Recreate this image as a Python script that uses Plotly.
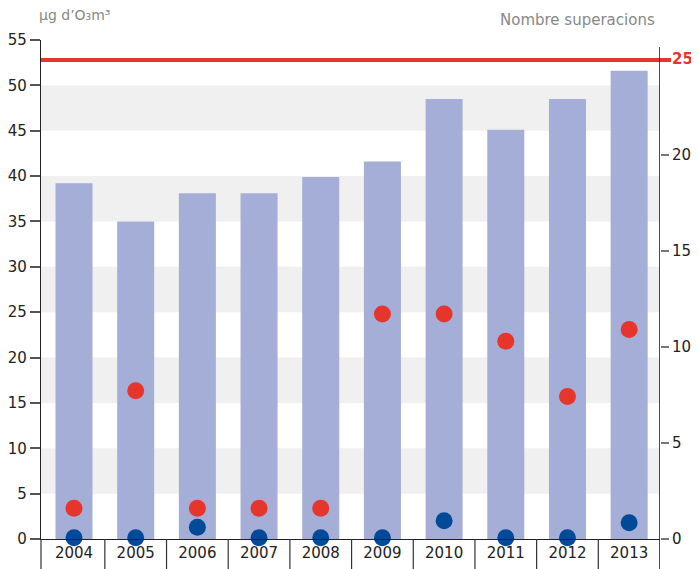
import plotly.graph_objects as go

years = ["2004", "2005", "2006", "2007", "2008", "2009", "2010", "2011", "2012", "2013"]
bar_values = [39.2, 35.0, 38.1, 38.1, 39.9, 41.6, 48.5, 45.1, 48.5, 51.6]
red_values = [3.4, 16.35, 3.4, 3.4, 3.4, 24.8, 24.8, 21.8, 15.7, 23.1]
blue_values = [0.15, 0.15, 1.3, 0.15, 0.15, 0.15, 2.0, 0.15, 0.15, 1.8]
limit_value = 52.8
left_ticks = [0, 5, 10, 15, 20, 25, 30, 35, 40, 45, 50, 55]
right_ticks = [0, 5, 10, 15, 20, 25]
bands = [(5, 10), (15, 20), (25, 30), (35, 40), (45, 50)]

FONT = "DejaVu Sans"
BAR = "#a5aed6"
RED = "#e6362c"
BLUE = "#004a97"
BAND = "#eff0ef"

# page has an 8px body margin; compensate so the plot area sits at x 41-660, y 40-539
PW, PH = 619, 499
ML, MT = 33, 32
W, H = 691, 561
MR = W - ML - PW
MB = H - MT - PH

fig = go.Figure()
fig.add_trace(go.Bar(x=years, y=bar_values, marker=dict(color=BAR, line=dict(width=0)),
                     width=0.6, hoverinfo="skip"))
fig.add_trace(go.Scatter(x=years, y=red_values, mode="markers",
                         marker=dict(color=RED, size=17), cliponaxis=False))
fig.add_trace(go.Scatter(x=years, y=blue_values, mode="markers",
                         marker=dict(color=BLUE, size=17), cliponaxis=False))
# invisible trace to activate right axis
fig.add_trace(go.Scatter(x=[years[0]], y=[0], yaxis="y2", mode="markers",
                         marker=dict(opacity=0), hoverinfo="skip"))

shapes = []
for lo, hi in bands:
    shapes.append(dict(type="rect", xref="paper", yref="y", x0=0, x1=1, y0=lo, y1=hi,
                       fillcolor=BAND, line=dict(width=0), layer="below"))
shapes.append(dict(type="line", xref="paper", yref="y", x0=0, x1=1 + 11 / PW,
                   y0=limit_value, y1=limit_value, line=dict(color=RED, width=4), layer="above"))
# left axis extension below the x axis
shapes.append(dict(type="line", xref="paper", yref="paper", x0=0, x1=0, y0=0, y1=-30 / PH,
                   line=dict(color="#333", width=1.2)))
for i in range(1, len(years) + 1):
    last = i == len(years)
    shapes.append(dict(type="line", xref="x", yref="paper", x0=i - 0.5, x1=i - 0.5,
                       y0=(1 - 7 / PH) if last else 0, y1=-30 / PH,
                       line=dict(color="#111" if last else "#333",
                                 width=1.5 if last else 1.2)))

tt_right = [str(v) for v in right_ticks]
tt_right[-1] = "<b><span style='color:%s'>25</span></b>" % RED

fig.update_layout(
    width=W, height=H,
    margin=dict(l=ML, r=MR, t=MT, b=MB, autoexpand=False),
    paper_bgcolor="white", plot_bgcolor="white",
    showlegend=False,
    font=dict(family=FONT, size=15, color="#222"),
    bargap=0.4,
    shapes=shapes,
    xaxis=dict(type="category", showline=True, linecolor="#222", linewidth=1.2,
               ticks="", showgrid=False, zeroline=False, range=[-0.535, 9.5],
               automargin=False, tickfont=dict(size=15, color="#222")),
    yaxis=dict(range=[0, 55], tickvals=left_ticks, showgrid=False, zeroline=False,
               showline=True, linecolor="#222", linewidth=1.2, automargin=False,
               ticks="outside", ticklen=10, tickcolor="#555", tickwidth=1.5,
               tickfont=dict(size=15, color="#222")),
    yaxis2=dict(range=[0, 26], overlaying="y", side="right", tickvals=right_ticks,
                ticktext=tt_right, showgrid=False, zeroline=False, automargin=False,
                showline=False,
                ticks="outside", ticklen=8, tickcolor="#777", tickwidth=1.5,
                tickfont=dict(size=15, color="#222")),
    annotations=[
        dict(text="μg d’O₃m³", xref="paper", yref="paper", x=0, y=1 + 25 / PH,
             xanchor="left", yanchor="middle", showarrow=False, xshift=-4,
             font=dict(size=14, color="#888", family=FONT)),
        dict(text="Nombre superacions", xref="paper", yref="paper", x=1, y=1 + 20 / PH,
             xanchor="right", yanchor="middle", showarrow=False, xshift=-3,
             font=dict(size=15, color="#888", family=FONT)),
    ],
)

fig.write_html("out.html")
